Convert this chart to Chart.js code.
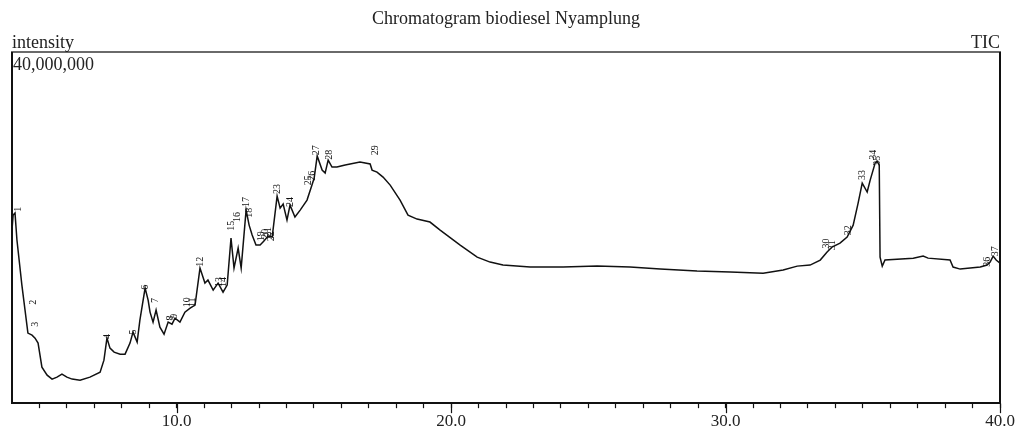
<!DOCTYPE html>
<html>
<head>
<meta charset="utf-8">
<script src="https://cdn.jsdelivr.net/npm/chart.js@4.4.1/dist/chart.umd.min.js"></script>
<style>
  html, body { margin: 0; padding: 0; background: #fff; }
  #wrap { width: 1021px; height: 435px; position: relative; }
</style>
</head>
<body>
<div id="wrap"><canvas id="c"></canvas></div>
<script>
// ---- data (retention time in min, intensity in millions of counts) ----
const times = [4.00,4.04,4.11,4.18,4.36,4.58,4.73,4.84,4.95,5.09,5.28,5.46,5.64,5.82,6.00,6.19,6.48,6.84,7.21,7.35,7.46,7.57,7.72,7.94,8.12,8.30,8.41,8.56,8.66,8.85,8.96,9.03,9.14,9.25,9.39,9.54,9.69,9.83,9.94,10.12,10.30,10.49,10.67,10.85,11.03,11.14,11.33,11.51,11.69,11.84,11.98,12.09,12.24,12.35,12.53,12.64,12.75,12.89,13.04,13.18,13.33,13.48,13.66,13.77,13.88,14.02,14.13,14.31,14.50,14.75,14.93,15.01,15.12,15.30,15.41,15.52,15.66,15.84,16.14,16.68,17.05,17.12,17.30,17.52,17.78,18.14,18.43,18.76,19.23,19.60,20.33,20.95,21.42,21.89,22.88,24.08,25.32,26.52,27.62,28.96,30.17,31.37,32.10,32.61,33.08,33.45,33.70,33.88,34.17,34.43,34.65,34.83,34.98,35.16,35.27,35.45,35.52,35.60,35.63,35.71,35.81,36.84,37.20,37.38,38.18,38.29,38.55,39.28,39.53,39.64,39.75,39.86,40.00];
const intensity = [19.72,21.42,21.65,18.58,13.45,7.98,7.75,7.41,6.84,4.10,3.19,2.74,2.96,3.30,2.96,2.74,2.62,2.96,3.53,4.90,7.41,6.27,5.81,5.58,5.58,6.84,8.09,6.95,9.46,13.11,11.74,10.37,9.23,10.60,8.66,7.86,9.23,9.00,9.69,9.23,10.37,10.83,11.17,15.38,13.68,14.02,12.88,13.68,12.65,13.45,18.80,15.38,17.66,15.38,21.99,20.28,19.15,18.01,18.01,18.46,19.03,18.92,23.59,22.22,22.68,20.85,22.56,21.20,21.99,23.13,24.84,25.64,28.15,26.55,26.21,27.69,26.89,26.89,27.12,27.46,27.24,26.55,26.32,25.75,24.84,23.13,21.42,20.97,20.63,19.72,18.01,16.64,16.07,15.73,15.50,15.50,15.61,15.50,15.27,15.04,14.93,14.81,15.16,15.61,15.73,16.30,17.21,17.78,18.23,18.92,20.28,22.79,25.07,24.05,25.41,27.35,27.58,27.12,16.64,15.61,16.30,16.52,16.75,16.52,16.30,15.50,15.27,15.50,15.73,16.07,16.75,16.30,15.95];

// peak annotations
const peakNumbers = ['1','2','3','4','5','6','7','8','9','10','11','12','13','14','15','16','17','18','19','20','21','22','23','24','25','26','27','28','29','30','31','32','33','34','35','36','37'];
const peakTimes   = [4.22,4.77,4.84,7.46,8.41,8.85,9.21,9.76,9.90,10.38,10.56,10.85,11.55,11.69,11.98,12.20,12.53,12.64,13.10,13.22,13.33,13.44,13.66,14.13,14.80,14.95,15.08,15.55,17.23,33.68,33.90,34.47,34.98,35.38,35.55,39.55,39.82];
const peakLevels  = [22.1,11.5,9.0,7.6,8.1,13.2,11.7,9.7,9.9,11.5,11.5,16.1,13.8,13.8,20.2,21.2,22.9,21.7,19.0,19.3,19.5,19.0,24.4,22.9,25.4,25.9,28.8,28.3,28.8,18.2,18.0,19.7,26.0,28.3,27.6,16.1,17.3];

// axis settings / labels
const xMin = 4.0, xMax = 40.0, yMin = 0, yMax = 40;
const xTickValues = [10, 20, 30, 40];
const xTickLabels = ['10.0', '20.0', '30.0', '40.0'];
const yTopLabel = '40,000,000';
const yAxisTitle = 'intensity';
const traceName = 'TIC';
const chartTitle = 'Chromatogram biodiesel Nyamplung';

const points = times.map((t, i) => ({ x: t, y: intensity[i] }));
const SERIF = "'Liberation Serif', 'Times New Roman', serif";

const decor = {
  id: 'decor',
  afterDraw(chart) {
    const { ctx, chartArea: a, scales } = chart;
    const xs = scales.x, ys = scales.y;
    ctx.save();
    // frame
    ctx.lineWidth = 2;
    ctx.strokeStyle = '#6a6a6a';
    ctx.beginPath(); ctx.moveTo(a.left - 1, a.top); ctx.lineTo(a.right + 1, a.top); ctx.stroke();
    ctx.strokeStyle = '#111';
    ctx.beginPath(); ctx.moveTo(a.left, a.top); ctx.lineTo(a.left, a.bottom); ctx.stroke();
    ctx.beginPath(); ctx.moveTo(a.right, a.top); ctx.lineTo(a.right, a.bottom); ctx.stroke();
    // longer major ticks
    ctx.lineWidth = 1.2;
    xTickValues.forEach(v => {
      const px = Math.round(xs.getPixelForValue(v)) + 0.5;
      ctx.beginPath(); ctx.moveTo(px, a.bottom); ctx.lineTo(px, a.bottom + 10); ctx.stroke();
    });
    // texts
    ctx.fillStyle = '#222';
    ctx.font = '18px ' + SERIF;
    ctx.textBaseline = 'alphabetic';
    ctx.textAlign = 'left';
    ctx.fillText(yAxisTitle, a.left, a.top - 4);
    ctx.textAlign = 'right';
    ctx.fillText(traceName, a.right, a.top - 4);
    ctx.textAlign = 'left';
    ctx.textBaseline = 'top';
    ctx.fillText(yTopLabel, a.left + 1, ys.getPixelForValue(yMax) + 4);
    // peak numbers (rotated)
    ctx.font = '10px ' + SERIF;
    ctx.fillStyle = '#111';
    ctx.textAlign = 'center';
    ctx.textBaseline = 'middle';
    peakNumbers.forEach((n, i) => {
      const px = xs.getPixelForValue(peakTimes[i]);
      const py = ys.getPixelForValue(peakLevels[i]);
      ctx.save();
      ctx.translate(px, py);
      ctx.rotate(-Math.PI / 2);
      ctx.fillText(n, 0, 0);
      ctx.restore();
    });
    ctx.restore();
  }
};

new Chart(document.getElementById('c'), {
  type: 'line',
  data: {
    datasets: [{
      label: traceName,
      data: points,
      borderColor: '#111',
      borderWidth: 1.5,
      pointRadius: 0,
      tension: 0,
      fill: false
    }]
  },
  options: {
    responsive: true,
    maintainAspectRatio: false,
    animation: false,
    events: [],
    layout: { padding: { left: 12, right: 21, top: 0, bottom: 0 } },
    plugins: {
      legend: { display: false },
      tooltip: { enabled: false },
      title: {
        display: true,
        text: chartTitle,
        color: '#222',
        font: { family: SERIF, size: 18, weight: 'normal' },
        padding: { top: 8, bottom: 22.4 }
      }
    },
    scales: {
      x: {
        type: 'linear',
        min: xMin,
        max: xMax,
        afterFit: (s) => { s.paddingLeft = 0; s.paddingRight = 0; },
        border: { display: true, color: '#111', width: 2 },
        grid: {
          display: true,
          drawOnChartArea: false,
          drawTicks: true,
          tickLength: 5,
          tickWidth: 1.2,
          tickColor: (c) => (c.tick && c.tick.value === xMin) ? 'rgba(0,0,0,0)' : '#111'
        },
        ticks: {
          stepSize: 1,
          autoSkip: false,
          maxRotation: 0,
          maxTicksLimit: 100,
          padding: 9,
          color: '#222',
          font: { family: SERIF, size: 17, lineHeight: 0.52 },
          callback: (v) => {
            const k = xTickValues.indexOf(v);
            return k >= 0 ? xTickLabels[k] : '';
          }
        }
      },
      y: {
        display: false,
        min: yMin,
        max: yMax
      }
    }
  },
  plugins: [decor]
});
</script>
</body>
</html>
